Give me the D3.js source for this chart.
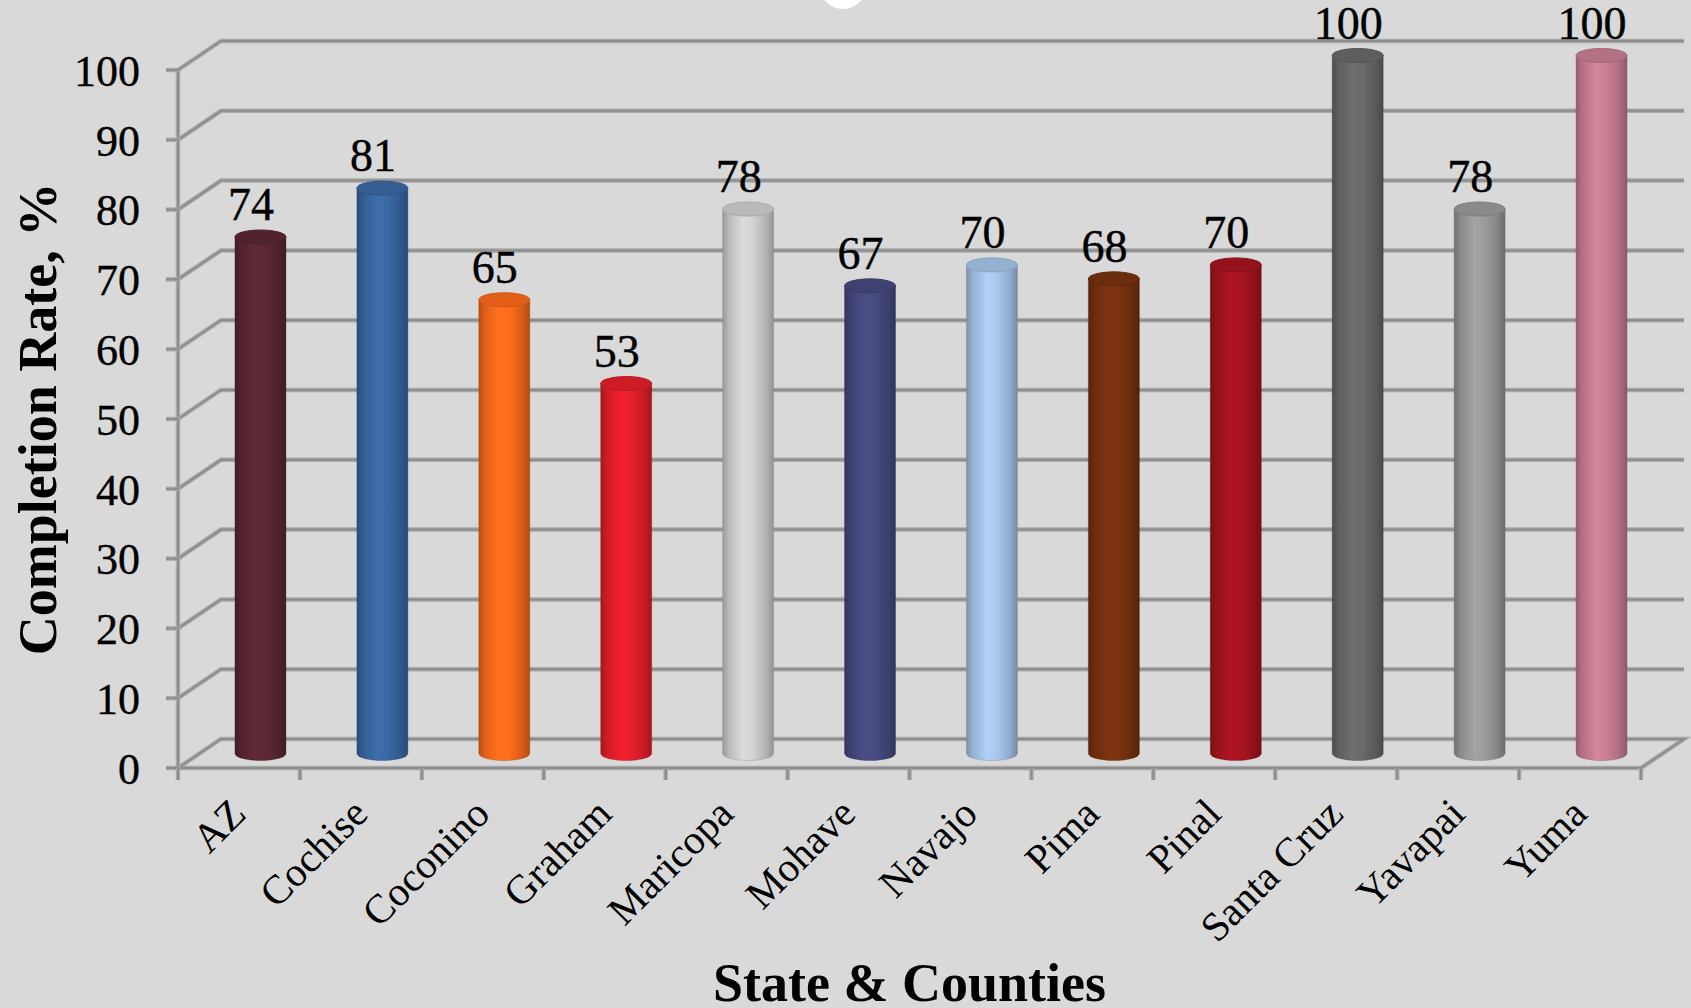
<!DOCTYPE html>
<html>
<head>
<meta charset="utf-8">
<script src="https://cdn.jsdelivr.net/npm/d3@7"></script>
<style>
  html, body { margin: 0; padding: 0; background: #d9d9d9; }
  svg { display: block; }
</style>
</head>
<body>
<svg id="chart" width="1691" height="1008"></svg>
<script>
// ---- data ----
const categories = ["AZ", "Cochise", "Coconino", "Graham", "Maricopa", "Mohave", "Navajo", "Pima", "Pinal", "Santa Cruz", "Yavapai", "Yuma"];
const values = [74, 81, 65, 53, 78, 67, 70, 68, 70, 100, 78, 100];
const barColors = ["#5c2834", "#3b69a6", "#ff6c1c", "#e8202b", "#d2d2d2", "#474b80", "#a9c8ee", "#7a3210", "#a8141f", "#6a6a6a", "#9c9c9c", "#cc8094"];
const yTicks = [0, 10, 20, 30, 40, 50, 60, 70, 80, 90, 100];
const yTitle = "Completion Rate, %";
const xTitle = "State & Counties";

// ---- layout ----
const W = 1691, H = 1008;
const svg = d3.select("#chart");
svg.append("rect").attr("width", W).attr("height", H).attr("fill", "#d9d9d9");

const x = d3.scaleBand().domain(categories).range([178, 1641]).padding(0);
const y = d3.scaleLinear().domain([0, 100]).range([768, 70]);
const DX = 43, DY = -29;           // depth offset of back wall
const rx = 25.5, ry = 7;           // cylinder radii

// decorative white blob at top (partially cut)
svg.append("ellipse").attr("cx", 843).attr("cy", -20).attr("rx", 26).attr("ry", 29).attr("fill", "#ffffff");

const grid = svg.append("g");
function gline(pts) {
  const p = d3.line()(pts);
  grid.append("path").attr("d", p).attr("fill", "none").attr("stroke", "#a9a9a9").attr("stroke-width", 4.5);
  grid.append("path").attr("d", p).attr("fill", "none").attr("stroke", "#8d8d8d").attr("stroke-width", 2);
}
const xL = x.range()[0], xR = x.range()[1];
// gridlines on side wall and back wall
yTicks.forEach(v => {
  if (v === 0) return;
  gline([[xL, y(v)], [xL + DX, y(v) + DY], [xR + DX, y(v) + DY]]);
});
// floor
gline([[xL, y(0)], [xL + DX, y(0) + DY], [xR + DX, y(0) + DY], [xR, y(0)], [xL, y(0)]]);
// front vertical axis
gline([[xL, y(0)], [xL, y(100)]]);
// y ticks
yTicks.forEach(v => gline([[xL - 12, y(v)], [xL, y(v)]]));
// x ticks
categories.concat([null]).forEach((c, i) => {
  const xx = c === null ? xR : x(c);
  gline([[xx, y(0)], [xx, y(0) + 12]]);
});

// y tick labels
svg.append("g").selectAll("text").data(yTicks).join("text")
  .attr("x", 140).attr("y", d => y(d)).attr("dy", "0.36em")
  .attr("text-anchor", "end")
  .attr("font-family", "'Liberation Serif', 'Times New Roman', serif")
  .attr("font-size", 44).attr("fill", "#000")
  .attr("stroke", "#000").attr("stroke-width", 0.4)
  .text(d => d);

// ---- cylinders ----
const defs = svg.append("defs");
const bars = svg.append("g");
categories.forEach((c, i) => {
  const col = d3.color(barColors[i]);
  const gid = "g" + i;
  const g = defs.append("linearGradient").attr("id", gid).attr("x1", "0%").attr("x2", "100%").attr("y1", "0%").attr("y2", "0%");
  [[0, col.darker(0.9)], [0.12, col.darker(0.35)], [0.4, col.brighter(0.12)], [0.6, col], [0.85, col.darker(0.45)], [1, col.darker(1.0)]]
    .forEach(([o, cc]) => g.append("stop").attr("offset", o).attr("stop-color", cc.formatHex()));

  const cx = x(c) + x.bandwidth() / 2 + DX / 2;
  const yB = y(0) + DY / 2;
  const yT = y(values[i]) + DY / 2;
  const body = `M${cx - rx},${yT} L${cx - rx},${yB} A${rx},${ry} 0 0 0 ${cx + rx},${yB} L${cx + rx},${yT} Z`;
  bars.append("path").attr("d", body).attr("fill", `url(#${gid})`)
    .attr("stroke", col.darker(1.2).formatHex()).attr("stroke-opacity", 0.35).attr("stroke-width", 1);
  bars.append("ellipse").attr("cx", cx).attr("cy", yT).attr("rx", rx).attr("ry", ry)
    .attr("fill", col.darker(0.35).formatHex())
    .attr("stroke", col.darker(0.6).formatHex()).attr("stroke-width", 1);

  // value label
  svg.append("text")
    .attr("x", x(c) + x.bandwidth() / 2 + 12).attr("y", yT - 17)
    .attr("text-anchor", "middle")
    .attr("font-family", "'Liberation Serif', 'Times New Roman', serif")
    .attr("font-size", 46).attr("fill", "#000")
    .attr("stroke", "#000").attr("stroke-width", 0.4)
    .text(values[i]);
});

// category labels
svg.append("g").selectAll("text").data(categories).join("text")
  .attr("transform", d => `translate(${x(d) + x.bandwidth() / 2 + 9},${y(0) + 48}) rotate(-45)`)
  .attr("text-anchor", "end")
  .attr("font-family", "'Liberation Serif', 'Times New Roman', serif")
  .attr("font-size", 41).attr("fill", "#000")
  .text(d => d);

// axis titles
svg.append("text")
  .attr("transform", `translate(56,${(y(0) + y(100)) / 2}) rotate(-90)`)
  .attr("text-anchor", "middle")
  .attr("font-family", "'Liberation Serif', 'Times New Roman', serif")
  .attr("font-weight", "bold").attr("font-size", 54).attr("fill", "#000")
  .text(yTitle);

svg.append("text")
  .attr("x", (xL + xR) / 2).attr("y", 1001)
  .attr("text-anchor", "middle")
  .attr("font-family", "'Liberation Serif', 'Times New Roman', serif")
  .attr("font-weight", "bold").attr("font-size", 54).attr("fill", "#000")
  .text(xTitle);
</script>
</body>
</html>
